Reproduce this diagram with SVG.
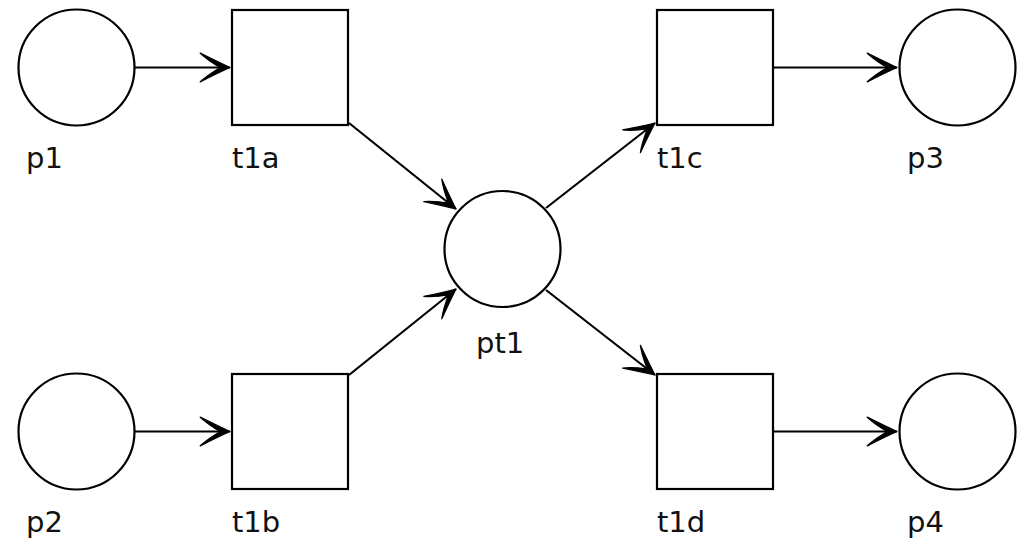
<svg xmlns="http://www.w3.org/2000/svg" width="1033" height="544" viewBox="0 0 1033 544">
<style>
.n{fill:#fff;stroke:#000;stroke-width:2.2}
.e{fill:none;stroke:#000;stroke-width:2.2}
.l{font-family:"DejaVu Sans",Verdana,sans-serif;font-size:29px;fill:#111}
</style>
<defs>
<marker id="ah" markerUnits="userSpaceOnUse" markerWidth="34" markerHeight="34" viewBox="-30 -15 32 30" refX="0" refY="0" orient="auto">
<path d="M0,0 C-9,-4 -19,-9 -28,-13.5 C-22,-8 -16,-4 -9,0 C-16,4 -22,8 -28,13.5 C-19,9 -9,4 0,0 Z" fill="#000" stroke="#000" stroke-width="1.2" stroke-linejoin="round"/>
</marker>
</defs>
<rect width="1033" height="544" fill="#fff"/>
<g id="connectors">
<path class="e" d="M135,67.5 L230,67.5" marker-end="url(#ah)"/>
<path class="e" d="M135,431.5 L230,431.5" marker-end="url(#ah)"/>
<path class="e" d="M773,67.5 L897,67.5" marker-end="url(#ah)"/>
<path class="e" d="M773,431.5 L897,431.5" marker-end="url(#ah)"/>
<path class="e" d="M349,123 L456,209" marker-end="url(#ah)"/>
<path class="e" d="M349,375 L456,289" marker-end="url(#ah)"/>
<path class="e" d="M546,208 L655,123" marker-end="url(#ah)"/>
<path class="e" d="M546,290 L655,375" marker-end="url(#ah)"/>
</g>
<g id="p1"><circle class="n" cx="76.5" cy="67.5" r="58"/><text class="l" x="26" y="168">p1</text></g>
<g id="p2"><circle class="n" cx="76.5" cy="431.5" r="58"/><text class="l" x="26" y="532">p2</text></g>
<g id="t1a"><rect class="n" x="232" y="10" width="116" height="115"/><text class="l" x="232" y="168">t1a</text></g>
<g id="t1b"><rect class="n" x="232" y="374" width="116" height="115"/><text class="l" x="232" y="532">t1b</text></g>
<g id="pt1"><circle class="n" cx="502.5" cy="249" r="58"/><text class="l" x="476" y="353">pt1</text></g>
<g id="t1c"><rect class="n" x="657" y="10" width="116" height="115"/><text class="l" x="657" y="168">t1c</text></g>
<g id="t1d"><rect class="n" x="657" y="374" width="116" height="115"/><text class="l" x="657" y="532">t1d</text></g>
<g id="p3"><circle class="n" cx="957.5" cy="67.5" r="58"/><text class="l" x="907" y="168">p3</text></g>
<g id="p4"><circle class="n" cx="957.5" cy="431.5" r="58"/><text class="l" x="907" y="532">p4</text></g>
</svg>
